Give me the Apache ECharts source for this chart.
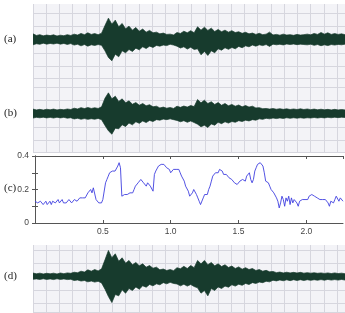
<!DOCTYPE html>
<html>
<head>
<meta charset="utf-8">
<script src="https://cdn.jsdelivr.net/npm/echarts@6/dist/echarts.min.js"></script>
<style>
  html, body { margin: 0; padding: 0; background: #fff; }
  #chart { width: 345px; height: 313px; }
</style>
</head>
<body>
<div id="chart"></div>
<script>
// waveform envelopes, one sample every waveStep seconds (upper / lower amplitude)
const waveStep = 0.025
const aUp = [0.42,0.3,0.36,0.27,0.33,0.29,0.35,0.26,0.32,0.28,
  0.36,0.3,0.4,0.33,0.45,0.36,0.5,0.38,0.44,0.36,
  0.47,1.05,1.6,1.15,1.45,0.95,1.2,0.8,1.0,0.7,
  0.9,0.62,0.78,0.55,0.68,0.5,0.55,0.42,0.48,0.38,
  0.4,0.34,0.52,0.45,0.62,0.5,0.66,0.5,0.95,0.7,
  0.92,0.68,0.85,0.6,0.75,0.58,0.7,0.55,0.66,0.52,
  0.58,0.46,0.54,0.42,0.48,0.38,0.46,0.36,0.4,0.55,
  0.34,0.38,0.32,0.4,0.33,0.36,0.31,0.38,0.33,0.36,
  0.4,0.35,0.45,0.38,0.52,0.4,0.5,0.38,0.44,0.38,
  0.42,0.36]
const aDn = [0.4,0.32,0.36,0.28,0.35,0.3,0.34,0.28,0.35,0.3,
  0.37,0.31,0.42,0.36,0.48,0.38,0.5,0.4,0.45,0.38,
  0.44,0.85,1.35,1.6,1.1,1.3,0.85,1.0,0.75,0.9,
  0.65,0.78,0.55,0.68,0.5,0.6,0.45,0.5,0.42,0.46,
  0.36,0.42,0.5,0.64,0.55,0.72,0.58,0.75,0.7,1.15,
  0.9,1.2,0.85,1.0,0.7,0.8,0.62,0.74,0.6,0.7,
  0.52,0.62,0.48,0.55,0.42,0.5,0.4,0.46,0.38,0.52,
  0.35,0.4,0.36,0.41,0.34,0.38,0.34,0.39,0.35,0.38,
  0.4,0.36,0.44,0.38,0.47,0.4,0.46,0.38,0.42,0.37,
  0.4,0.35]
const bUp = [0.33,0.27,0.31,0.26,0.32,0.28,0.33,0.27,0.31,0.28,
  0.34,0.3,0.4,0.34,0.44,0.37,0.45,0.38,0.43,0.38,
  0.5,1.15,1.55,1.1,1.3,0.9,1.1,0.8,0.95,0.7,
  0.82,0.62,0.75,0.58,0.66,0.5,0.55,0.42,0.48,0.4,
  0.45,0.38,0.55,0.46,0.56,0.48,0.6,0.52,1.05,0.8,
  1.0,0.75,0.88,0.68,0.82,0.62,0.75,0.58,0.68,0.55,
  0.64,0.5,0.6,0.48,0.55,0.42,0.44,0.36,0.38,0.33,
  0.37,0.32,0.36,0.31,0.35,0.3,0.34,0.3,0.35,0.3,
  0.34,0.29,0.33,0.28,0.32,0.28,0.31,0.27,0.31,0.27,
  0.3,0.27]
const bDn = [0.34,0.29,0.32,0.28,0.33,0.29,0.34,0.28,0.33,0.29,
  0.35,0.32,0.41,0.36,0.43,0.38,0.44,0.39,0.43,0.37,
  0.46,0.9,1.3,1.55,1.1,1.15,0.85,0.98,0.72,0.85,
  0.62,0.74,0.56,0.68,0.52,0.6,0.46,0.5,0.42,0.46,
  0.4,0.46,0.52,0.62,0.54,0.66,0.56,0.68,0.8,1.0,
  0.88,1.05,0.78,0.88,0.66,0.76,0.62,0.72,0.6,0.66,
  0.54,0.6,0.5,0.56,0.46,0.5,0.4,0.44,0.36,0.4,
  0.34,0.38,0.33,0.37,0.32,0.36,0.32,0.35,0.32,0.35,
  0.32,0.34,0.3,0.34,0.3,0.33,0.29,0.32,0.28,0.31,
  0.28,0.3]
const dUp = [0.26,0.2,0.25,0.19,0.24,0.2,0.25,0.19,0.26,0.21,
  0.27,0.24,0.32,0.28,0.4,0.33,0.5,0.4,0.52,0.42,
  0.58,1.25,1.95,1.4,1.7,1.15,1.4,1.0,1.2,0.88,
  1.05,0.8,0.95,0.7,0.82,0.62,0.7,0.5,0.56,0.45,
  0.52,0.44,0.66,0.58,0.76,0.6,0.82,0.66,1.2,0.95,
  1.2,0.88,1.05,0.8,0.95,0.75,0.88,0.68,0.78,0.6,
  0.72,0.55,0.66,0.52,0.6,0.45,0.52,0.4,0.46,0.35,
  0.38,0.29,0.33,0.27,0.32,0.27,0.31,0.26,0.31,0.25,
  0.29,0.25,0.28,0.24,0.27,0.23,0.27,0.22,0.27,0.22,
  0.25,0.21]
const dDn = [0.21,0.18,0.22,0.17,0.22,0.18,0.23,0.17,0.22,0.18,
  0.23,0.21,0.3,0.26,0.34,0.3,0.4,0.34,0.42,0.36,
  0.48,0.95,1.5,1.95,1.35,1.45,1.0,1.25,0.9,1.05,
  0.78,0.95,0.7,0.8,0.6,0.7,0.55,0.62,0.46,0.55,
  0.44,0.52,0.56,0.7,0.58,0.72,0.6,0.75,0.85,1.25,
  1.05,1.45,0.9,1.05,0.78,0.9,0.72,0.8,0.62,0.72,
  0.58,0.66,0.52,0.6,0.46,0.52,0.42,0.46,0.36,0.4,
  0.28,0.33,0.26,0.32,0.25,0.31,0.24,0.3,0.24,0.3,
  0.24,0.29,0.24,0.28,0.23,0.28,0.22,0.27,0.23,0.27,
  0.22,0.27]

// panel (c) curve, one value every cStep seconds
const cStep = 0.01
const cVal = [0.13,0.12,0.12,0.11,0.13,0.12,0.11,0.12,0.13,0.11,
  0.12,0.13,0.11,0.13,0.14,0.12,0.13,0.14,0.12,0.13,
  0.14,0.12,0.13,0.12,0.13,0.14,0.13,0.12,0.13,0.14,
  0.14,0.13,0.14,0.15,0.14,0.15,0.16,0.15,0.16,0.18,
  0.19,0.2,0.18,0.21,0.2,0.14,0.13,0.12,0.13,0.12,
  0.14,0.15,0.24,0.26,0.28,0.3,0.3,0.31,0.3,0.31,
  0.32,0.34,0.36,0.33,0.16,0.15,0.17,0.18,0.17,0.18,
  0.18,0.17,0.18,0.2,0.22,0.23,0.24,0.25,0.26,0.25,
  0.24,0.23,0.22,0.24,0.23,0.22,0.21,0.19,0.29,0.31,
  0.32,0.34,0.35,0.35,0.34,0.35,0.34,0.33,0.34,0.32,
  0.3,0.31,0.32,0.33,0.32,0.33,0.32,0.3,0.28,0.27,
  0.25,0.22,0.21,0.19,0.16,0.15,0.18,0.2,0.19,0.17,
  0.15,0.13,0.11,0.12,0.15,0.17,0.18,0.17,0.2,0.22,
  0.25,0.28,0.29,0.3,0.31,0.3,0.32,0.33,0.31,0.29,
  0.3,0.29,0.28,0.27,0.28,0.26,0.25,0.24,0.23,0.23,
  0.24,0.25,0.24,0.26,0.27,0.25,0.28,0.29,0.3,0.26,
  0.24,0.26,0.31,0.33,0.35,0.36,0.36,0.35,0.34,0.3,
  0.25,0.26,0.24,0.22,0.2,0.2,0.18,0.17,0.15,0.13,
  0.09,0.12,0.16,0.14,0.1,0.15,0.13,0.16,0.11,0.15,
  0.12,0.14,0.15,0.12,0.1,0.13,0.12,0.14,0.13,0.14,
  0.15,0.14,0.16,0.15,0.17,0.18,0.16,0.17,0.15,0.14,
  0.14,0.13,0.14,0.15,0.14,0.13,0.12,0.1,0.13,0.14,
  0.12,0.14,0.16,0.15,0.13,0.15,0.14,0.13]

const panelNames = ['(a)', '(b)', '(c)', '(d)']

const waveColor = '#173b2d'
const lineColor = '#4040e0'
const gridBg = '#f3f3f7'
const gridLine = '#d6d6de'

const chart = echarts.init(document.getElementById('chart'))

const waveTimes = aUp.map((v, i) => (i * waveStep).toFixed(3))

// wave panels: top, height, y range
const wavePanels = [
  { top: 4, height: 74, min: -2.89, max: 2.66, up: aUp, dn: aDn },
  { top: 79, height: 73, min: -2.89, max: 2.59, up: bUp, dn: bDn },
  { top: 245, height: 67, min: -2.66, max: 2.36, up: dUp, dn: dDn }
]

const grids = []
const xAxes = []
const yAxes = []
const series = []

wavePanels.forEach((p, k) => {
  const gi = grids.length
  grids.push({
    left: 33, width: 312, top: p.top, height: p.height,
    show: true, backgroundColor: gridBg, borderWidth: 0
  })
  const xi = xAxes.length
  xAxes.push({ type: 'category', gridIndex: gi, data: waveTimes, boundaryGap: false, show: false })
  xAxes.push({
    type: 'value', gridIndex: gi, min: 0, max: 23.6, interval: 1,
    axisLine: { show: false }, axisTick: { show: false }, axisLabel: { show: false },
    splitLine: { show: true, lineStyle: { color: gridLine, width: 1 } }
  })
  const yi = yAxes.length
  yAxes.push({
    type: 'value', gridIndex: gi, min: p.min, max: p.max, splitNumber: 5,
    axisLine: { show: false }, axisTick: { show: false }, axisLabel: { show: false },
    splitLine: { show: true, showMaxLine: false, lineStyle: { color: gridLine, width: 1 } }
  })
  // lower edge of the trace, then the band up to the upper edge stacked on it
  series.push({
    type: 'line', xAxisIndex: xi, yAxisIndex: yi,
    stack: 'w' + k, stackStrategy: 'all',
    data: p.dn.map(v => -v),
    symbol: 'none', silent: true,
    lineStyle: { color: waveColor, width: 0.7 }
  })
  series.push({
    type: 'line', xAxisIndex: xi, yAxisIndex: yi,
    stack: 'w' + k, stackStrategy: 'all',
    data: p.up.map((v, i) => v + p.dn[i]),
    symbol: 'none', silent: true,
    lineStyle: { color: waveColor, width: 0.7 },
    areaStyle: { color: waveColor, opacity: 1 }
  })
})

// panel (c)
const gc = grids.length
grids.push({
  left: 35, right: 2, top: 156, height: 67,
  show: true, backgroundColor: '#fff', borderWidth: 0
})
const xc = xAxes.length
const axisCol = '#555'
xAxes.push({
  type: 'value', gridIndex: gc, min: 0, max: 2.27, interval: 0.5,
  axisLine: { show: true, onZero: false, lineStyle: { color: axisCol, width: 1 } },
  axisTick: { show: true, inside: true, length: 3, lineStyle: { color: axisCol } },
  axisLabel: {
    color: '#444', fontSize: 8.5, fontFamily: 'Liberation Sans', margin: 4,
    showMinLabel: false, showMaxLabel: false,
    formatter: v => v.toFixed(1)
  },
  splitLine: { show: false }
})
xAxes.push({
  type: 'value', gridIndex: gc, position: 'top', min: 0, max: 2.27, interval: 0.5,
  axisLine: { show: true, onZero: false, lineStyle: { color: axisCol, width: 1 } },
  axisTick: { show: true, inside: true, length: 3, lineStyle: { color: axisCol } },
  axisLabel: { show: false }, splitLine: { show: false }
})
const yc = yAxes.length
yAxes.push({
  type: 'value', gridIndex: gc, min: 0, max: 0.4, interval: 0.2,
  axisLine: { show: true, lineStyle: { color: axisCol, width: 1 } },
  axisTick: { show: true, inside: true, length: 3, lineStyle: { color: axisCol } },
  minorTick: { show: true, splitNumber: 2, length: 3, lineStyle: { color: axisCol } },
  axisLabel: {
    color: '#444', fontSize: 8.5, fontFamily: 'Liberation Sans', margin: 6,
    formatter: v => (v === 0 ? '0' : v.toFixed(1))
  },
  splitLine: { show: false }
})
yAxes.push({
  type: 'value', gridIndex: gc, position: 'right', min: 0, max: 0.4, interval: 0.2,
  axisLine: { show: true, lineStyle: { color: axisCol, width: 1 } },
  axisTick: { show: true, inside: true, length: 3, lineStyle: { color: axisCol } },
  minorTick: { show: true, splitNumber: 2, length: 3, lineStyle: { color: axisCol } },
  axisLabel: { show: false }, splitLine: { show: false }
})
series.push({
  type: 'line', xAxisIndex: xc, yAxisIndex: yc,
  data: cVal.map((v, i) => [i * cStep, v]),
  symbol: 'none', silent: true,
  lineStyle: { color: lineColor, width: 0.9 }
})

// panel captions
const captionY = [41, 115, 190, 278]
const graphic = panelNames.map((name, i) => ({
  type: 'text', left: 4, top: captionY[i] - 7,
  style: { text: name, fill: '#222', font: '11px "Liberation Serif"' }
}))

chart.setOption({
  animation: false,
  grid: grids,
  xAxis: xAxes,
  yAxis: yAxes,
  series: series,
  graphic: graphic
})
</script>
</body>
</html>
